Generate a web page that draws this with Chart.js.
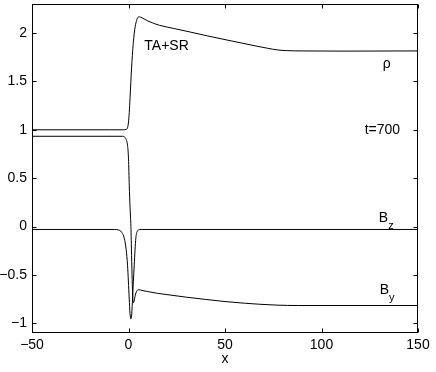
<!DOCTYPE html>
<html><head><meta charset="utf-8">
<script src="https://cdn.jsdelivr.net/npm/chart.js@4/dist/chart.umd.min.js"></script>
<style>html,body{margin:0;padding:0;background:#fff;}#wrap{width:436px;height:372px;}</style>
</head><body><div id="wrap"><canvas id="c" width="436" height="372"></canvas></div>
<script>
// ---- data ----
const rhoX = [-50, -10, -3, -1, -0.5, 0, 0.4, 0.8, 1.2, 1.6, 2.0, 2.5, 3.0, 3.5, 4.2, 4.8, 5.56, 7, 10, 13, 16, 24, 32, 41, 50, 59, 66, 72, 77, 82, 90, 110, 150];
const rhoY = [1.0, 1.0, 1.0, 1.005, 1.02, 1.08, 1.18, 1.33, 1.49, 1.64, 1.77, 1.90, 2.0, 2.07, 2.13, 2.16, 2.167, 2.157, 2.125, 2.1, 2.08, 2.045, 2.01, 1.97, 1.932, 1.895, 1.866, 1.843, 1.826, 1.818, 1.815, 1.813, 1.815];

const bzX = [-50, -8, -4.5, -3.5, -2.2, -1.2, -0.5, 0.36, 0.8, 1.25, 1.7, 2.1, 2.96, 3.8, 4.5, 5.2, 6.5, 50, 150];
const bzY = [-0.03, -0.03, -0.04, -0.06, -0.12, -0.24, -0.4, -0.74, -0.9, -0.955, -0.9, -0.74, -0.4, -0.12, -0.05, -0.035, -0.03, -0.03, -0.03];

const byX = [-50, -3, -2, -1.2, -0.5, 0, 0.4, 0.8, 1.25, 1.6, 1.9, 2.2, 2.44, 2.9, 3.5, 4.2, 5.2, 7, 10, 15, 21, 30, 40, 50, 60, 68, 77, 88, 150];
const byY = [0.933, 0.933, 0.925, 0.9, 0.84, 0.7, 0.42, 0.2, 0.0, -0.3, -0.55, -0.72, -0.79, -0.77, -0.71, -0.67, -0.652, -0.66, -0.672, -0.69, -0.706, -0.73, -0.753, -0.775, -0.792, -0.803, -0.812, -0.816, -0.816];

const xTicks = [-50, 0, 50, 100, 150];
const yTicks = [-1, -0.5, 0, 0.5, 1, 1.5, 2];
const xRange = [-50, 150];
const yRange = [-1.1, 2.3];

// text annotations anchored in data units
const notes = [
  {text: 'TA+SR', x: 8.2, y: 1.86, sub: ''},
  {text: '\u03C1', x: 131.8, y: 1.68, sub: ''},
  {text: 't=700', x: 122.4, y: 1.0, sub: ''},
  {text: 'B', x: 129.7, y: 0.09, sub: 'z'},
  {text: 'B', x: 130.2, y: -0.655, sub: 'y'}
];

const FONT = '"Liberation Sans", Arial, Helvetica, sans-serif';
const pts = (xs, ys) => xs.map((x, i) => ({x, y: ys[i]}));
const fmt = v => String(v).replace('-', '\u2212');

const frame = {
  id: 'frame',
  afterDraw(chart) {
    const {ctx, chartArea: a, scales: {x, y}} = chart;
    ctx.save();
    ctx.strokeStyle = '#000';
    ctx.lineWidth = 1;
    const L = a.left + 0.5, R = a.right - 0.5, T = a.top + 0.5, B = a.bottom - 0.5;
    ctx.strokeRect(L, T, R - L, B - T);
    const tl = 4;
    ctx.beginPath();
    xTicks.forEach(v => {
      const px = Math.round(x.getPixelForValue(v)) + 0.5;
      ctx.moveTo(px, B); ctx.lineTo(px, B - tl);
      ctx.moveTo(px, T); ctx.lineTo(px, T + tl);
    });
    yTicks.forEach(v => {
      const py = Math.round(y.getPixelForValue(v)) + 0.5;
      ctx.moveTo(L, py); ctx.lineTo(L + tl, py);
      ctx.moveTo(R, py); ctx.lineTo(R - tl, py);
    });
    ctx.stroke();
    ctx.fillStyle = '#000';
    ctx.textBaseline = 'middle';
    ctx.textAlign = 'left';
    notes.forEach(n => {
      const px = x.getPixelForValue(n.x), py = y.getPixelForValue(n.y);
      ctx.font = '14px ' + FONT;
      ctx.fillText(n.text, px, py);
      if (n.sub) {
        const w = ctx.measureText(n.text).width;
        ctx.font = '11px ' + FONT;
        ctx.fillText(n.sub, px + w, py + 8);
      }
    });
    ctx.restore();
  }
};

const ds = (xs, ys) => ({
  data: pts(xs, ys), borderColor: '#000', borderWidth: 1, pointRadius: 0,
  cubicInterpolationMode: 'monotone', fill: false
});

new Chart(document.getElementById('c'), {
  type: 'line',
  data: {datasets: [ds(rhoX, rhoY), ds(bzX, bzY), ds(byX, byY)]},
  options: {
    responsive: false, animation: false, devicePixelRatio: 1,
    layout: {padding: {left: 0, right: 18, top: 4, bottom: 0}},
    plugins: {legend: {display: false}, tooltip: {enabled: false}},
    scales: {
      x: {
        type: 'linear', min: xRange[0], max: xRange[1],
        afterBuildTicks: s => { s.ticks = xTicks.map(v => ({value: v})); },
        afterFit: s => { s.height = 39; s.paddingLeft = 0; s.paddingRight = 0; },
        grid: {display: false, drawTicks: false},
        border: {display: false},
        ticks: {color: '#000', font: {family: FONT, size: 14}, padding: 4, maxRotation: 0, callback: v => fmt(v)},
        title: {display: true, text: 'x', color: '#000', font: {family: FONT, size: 14}, padding: {top: 0, bottom: 4}}
      },
      y: {
        type: 'linear', min: yRange[0], max: yRange[1],
        afterBuildTicks: s => { s.ticks = yTicks.map(v => ({value: v})); },
        afterFit: s => { s.width = 32; s.paddingTop = 0; s.paddingBottom = 0; },
        grid: {display: false, drawTicks: false},
        border: {display: false},
        ticks: {color: '#000', font: {family: FONT, size: 14}, padding: 5, callback: v => fmt(v)}
      }
    }
  },
  plugins: [frame]
});
</script></body></html>
